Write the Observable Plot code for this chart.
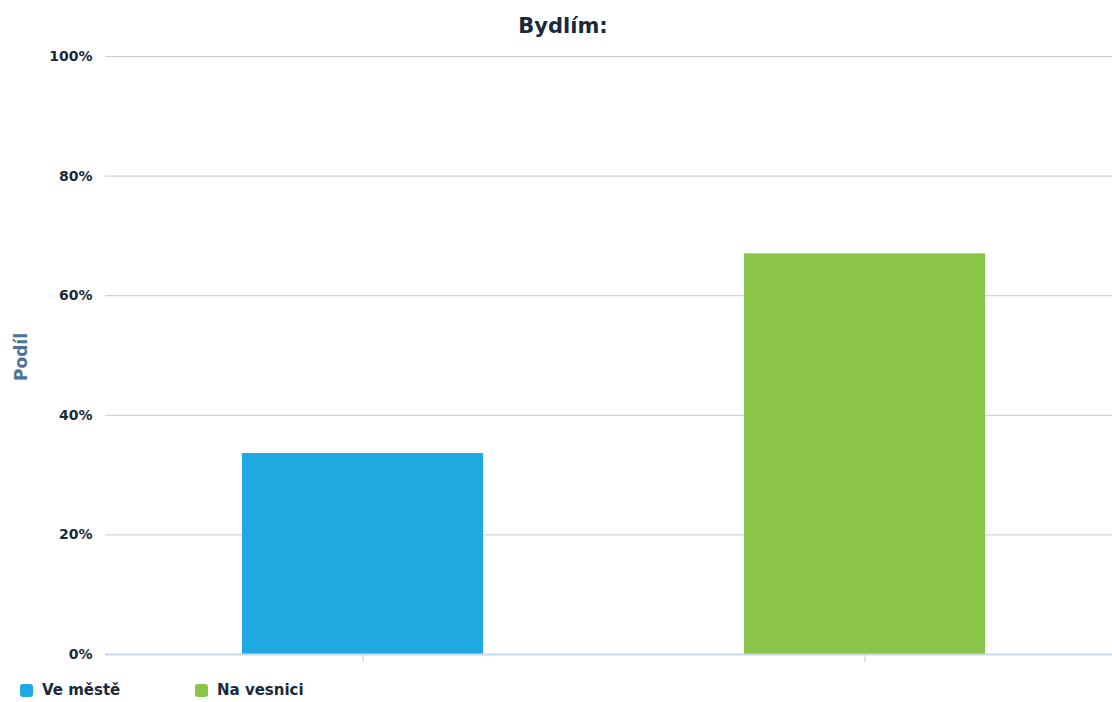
<!DOCTYPE html>
<html>
<head>
<meta charset="utf-8">
<script src="https://cdn.jsdelivr.net/npm/d3@7"></script>
<script src="https://cdn.jsdelivr.net/npm/@observablehq/plot@0.6"></script>
<style>
  html, body { margin: 0; padding: 0; background: #fff; }
  body { width: 1112px; height: 702px; position: relative; overflow: hidden; font-family: "DejaVu Sans", sans-serif; }
  #title { position: absolute; left: 7px; top: 14px; width: 1112px; text-align: center; font-weight: bold; font-size: 21px; color: #1b2a3a; }
  #chart { position: absolute; left: 0; top: 46px; }
  #ylabel { position: absolute; left: 21px; top: 357px; transform: translate(-50%, -50%) rotate(-90deg); font-weight: bold; font-size: 17px; color: #4d7199; white-space: nowrap; }
  #legend { position: absolute; left: 20px; top: 681px; display: flex; align-items: center; font-weight: bold; font-size: 15px; color: #1b2a3a; }
  .item { display: flex; align-items: center; }
  .sw { width: 13px; height: 13px; border-radius: 3px; margin-right: 9px; }
</style>
</head>
<body>
<div id="title">Bydlím:</div>
<div id="ylabel">Podíl</div>
<div id="chart"></div>
<div id="legend"></div>
<script>
const categories = ["Ve městě", "Na vesnici"];
const values = [33.6, 67.0];
const colors = ["#20a9e1", "#8bc54a"];
const yTicks = [0, 20, 40, 60, 80, 100];

const data = categories.map((c, i) => ({cat: c, value: values[i]}));

const chart = Plot.plot({
  width: 1112,
  height: 628,
  marginTop: 10,
  marginLeft: 105,
  marginRight: 0,
  marginBottom: 20,
  style: {background: "transparent", fontFamily: "DejaVu Sans, sans-serif"},
  x: {domain: categories, range: [111, 1116], paddingInner: 0.52, paddingOuter: 0.26, axis: null},
  y: {domain: [0, 100], axis: null},
  color: {domain: categories, range: colors},
  marks: [
    Plot.ruleY(yTicks.filter(d => d > 0), {stroke: "#c8c8c8", strokeWidth: 1}),
    Plot.barY(data, {x: "cat", y: "value", fill: "cat"}),
    Plot.ruleY([0], {stroke: "#c9d8e8", strokeWidth: 2}),
    Plot.axisY({ticks: yTicks, tickSize: 0, tickPadding: 13, tickFormat: d => d + "%", fontWeight: "bold", fontSize: 14, fill: "#1b2a3a", label: null}),
    Plot.axisX({tickSize: 8, tickPadding: 0, tickFormat: () => "", stroke: "#c8c8c8", label: null})
  ]
});
document.getElementById("chart").appendChild(chart);

const legend = document.getElementById("legend");
const starts = [20, 195];
categories.forEach((c, i) => {
  const item = document.createElement("div");
  item.className = "item";
  item.style.position = "absolute";
  item.style.left = (starts[i] - 20) + "px";
  item.style.top = "0px";
  const sw = document.createElement("div");
  sw.className = "sw";
  sw.style.background = colors[i];
  item.appendChild(sw);
  const t = document.createElement("span");
  t.textContent = c;
  t.style.whiteSpace = "nowrap";
  item.appendChild(t);
  legend.appendChild(item);
});
</script>
</body>
</html>
